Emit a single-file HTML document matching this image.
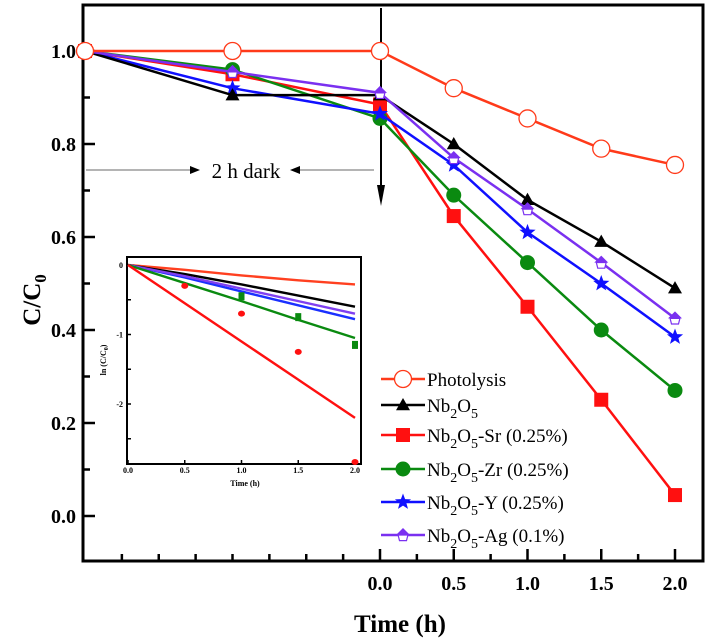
<!DOCTYPE html>
<html><head><meta charset="utf-8"><style>
body{margin:0;background:#fff}
svg{display:block;font-family:"Liberation Serif",serif}
</style></head><body>
<svg width="709" height="644" viewBox="0 0 709 644" id="c">
</svg>
<script>
const times=[-2,-1,0,0.5,1,1.5,2];
const seriesNames=["Photolysis","Nb2O5","Nb2O5-Sr (0.25%)","Nb2O5-Zr (0.25%)","Nb2O5-Y (0.25%)","Nb2O5-Ag (0.1%)"];
const photolysis=[1,1,1,0.92,0.855,0.79,0.755];
const nb2o5=[1,0.905,0.905,0.80,0.68,0.59,0.49];
const sr=[1,0.95,0.885,0.645,0.45,0.25,0.045];
const zr=[1,0.96,0.855,0.69,0.545,0.40,0.27];
const yy=[1,0.92,0.865,0.755,0.61,0.50,0.385];
const ag=[1,0.955,0.91,0.77,0.66,0.545,0.425];
const xTicks=[0,0.5,1,1.5,2];
const yTicks=[0,0.2,0.4,0.6,0.8,1.0];
const insetTimes=[0,0.5,1,1.5,2];
const inPhot=[0,-0.07,-0.15,-0.22,-0.28];
const inNb=[0,-0.13,-0.28,-0.44,-0.6];
const inAg=[0,-0.16,-0.34,-0.52,-0.7];
const inY=[0,-0.18,-0.38,-0.58,-0.78];
const inZr=[0,-0.26,-0.52,-0.79,-1.05];
const inSr=[0,-0.55,-1.1,-1.65,-2.2];
const inSrPts=[-0.3,-0.7,-1.25,-2.9];
const inZrPts=[-0.45,-0.75,-1.15];
const inPtTimes=[0.5,1,1.5,2];

const S=document.getElementById('c'),NS='http://www.w3.org/2000/svg';
function mk(t,a,p){const e=document.createElementNS(NS,t);for(const k in a)e.setAttribute(k,a[k]);(p||S).appendChild(e);return e;}
const X=t=>380+147.5*t, Y=v=>516-465*v;
const IX=t=>128+113.5*t, IY=v=>265-69.5*v;

let e;
e=mk('rect',{x:83,y:5,width:620,height:556,fill:'none',stroke:'#000','stroke-width':3});

for(let t=-1.75;t<=2.01;t+=0.25){const maj=Math.abs(t*2-Math.round(t*2))<1e-6&&t>=0;
 mk('line',{x1:X(t),x2:X(t),y1:561,y2:561-(maj?12:7),stroke:'#000','stroke-width':2.5});}
xTicks.forEach(t=>{e=mk('text',{x:X(t),y:590,'text-anchor':'middle','font-size':20,'font-weight':'bold'});e.textContent=t.toFixed(1);
});
for(let v=0;v<=1.05;v+=0.1){const maj=Math.round(v*10)%2==0;mk('line',{x1:83,x2:83+(maj?12:7),y1:Y(v),y2:Y(v),stroke:'#000','stroke-width':2.5});}
yTicks.forEach(v=>{e=mk('text',{x:76,y:Y(v)+7,'text-anchor':'end','font-size':20,'font-weight':'bold'});e.textContent=v.toFixed(1);
});
e=mk('text',{x:400,y:632,'text-anchor':'middle','font-size':25,'font-weight':'bold'});e.textContent='Time (h)';

e=mk('text',{transform:'translate(40,300) rotate(-90)','text-anchor':'middle','font-size':25,'font-weight':'bold'});
e.innerHTML='C/C<tspan font-size="17" dy="6">0</tspan>';


mk('line',{x1:86,x2:197,y1:170,y2:170,stroke:'#888','stroke-width':1.2});
mk('line',{x1:295,x2:374,y1:170,y2:170,stroke:'#888','stroke-width':1.2});
mk('path',{d:'M190,166L200,170L190,174z',fill:'#000'});
mk('path',{d:'M300,166L290,170L300,174z',fill:'#000'});
e=mk('text',{x:246,y:178,'text-anchor':'middle','font-size':21});e.textContent='2 h dark';

mk('line',{x1:381,x2:381,y1:8,y2:198,stroke:'#000','stroke-width':2});
mk('path',{d:'M377,185L381,206L385,185z',fill:'#000'});

function marker(kind,cx,cy,col,r,g,name){
 let m;
 if(kind=='circle')m=mk('circle',{cx,cy,r,fill:'#fff',stroke:col,'stroke-width':1.3},g);
 else if(kind=='tri')m=mk('path',{d:`M${cx},${cy-r}L${cx+r},${cy+r*0.75}L${cx-r},${cy+r*0.75}z`,fill:col},g);
 else if(kind=='square')m=mk('rect',{x:cx-r,y:cy-r,width:2*r,height:2*r,fill:col},g);
 else if(kind=='dot')m=mk('circle',{cx,cy,r,fill:col},g);
 else if(kind=='star'){let d='';for(let i=0;i<10;i++){const a=-Math.PI/2+i*Math.PI/5,rr=i%2?r*0.42:r;d+=(i?'L':'M')+(cx+rr*Math.cos(a))+','+(cy+rr*Math.sin(a));}m=mk('path',{d:d+'z',fill:col},g);}
 else if(kind=='pent'){mk('path',{d:`M${cx-r},${cy}L${cx},${cy-r}L${cx+r},${cy}z`,fill:col},g);
   m=mk('path',{d:`M${cx-r*0.7},${cy}L${cx+r*0.7},${cy}L${cx+r*0.5},${cy+r*0.8}L${cx-r*0.5},${cy+r*0.8}z`,fill:'#fff',stroke:col,'stroke-width':1.2},g);}
 
}
const series=[[photolysis,'#ff3a1a','circle',8.5],[nb2o5,'#000','tri',7],[sr,'#ff1010','square',7],[zr,'#0a8a10','dot',7.5],[yy,'#1010ff','star',8.5],[ag,'#7a30f0','pent',7]];
const order=[2,3,4,1,5,0];
order.forEach(i=>{const [d,col,k,r]=series[i];const g=mk('g',{});
 
 mk('polyline',{points:times.map((t,j)=>X(t)+','+Y(d[j])).join(' '),fill:'none',stroke:col,'stroke-width':2.5},g);
 times.forEach((t,j)=>marker(k,X(t),Y(d[j]),col,r,g,'point'));});

const ly=[379,405,435,469,502,535];
const lg=mk('g',{});
seriesNames.forEach((n,i)=>{const [d,col,k,r]=series[i];const y=ly[i];
 const g=mk('g',{},lg);
 mk('line',{x1:381,x2:425,y1:y,y2:y,stroke:col,'stroke-width':2.5},g);
 marker(k,403,y,col,r,g,'legend-marker');
 const t=mk('text',{x:427,y:y+7,'font-size':19},g);
 if(i==0)t.textContent=n;else{const rest=n.slice(5);t.innerHTML='Nb<tspan font-size="14" dy="6">2</tspan><tspan dy="-6">O</tspan><tspan font-size="14" dy="6">5</tspan><tspan dy="-6">'+rest+'</tspan>';}
});

const ig=mk('g',{});
mk('rect',{x:127,y:257,width:234,height:207,fill:'#fff',stroke:'#000','stroke-width':2},ig);
xTicks.forEach(t=>{mk('line',{x1:IX(t),x2:IX(t),y1:464,y2:460,stroke:'#000','stroke-width':1.5},ig);
 const tt=mk('text',{x:IX(t),y:473,'text-anchor':'middle','font-size':8,'font-weight':'bold'},ig);tt.textContent=t.toFixed(1);});
[0,-1,-2].forEach(v=>{const tt=mk('text',{x:123,y:IY(v)+3,'text-anchor':'end','font-size':8,'font-weight':'bold'},ig);tt.textContent=v;});
for(let v=0;v>=-2.51;v-=0.5)mk('line',{x1:127,x2:131,y1:IY(v),y2:IY(v),stroke:'#000','stroke-width':1.5},ig);
let tt=mk('text',{x:245,y:486,'text-anchor':'middle','font-size':8,'font-weight':'bold'},ig);tt.textContent='Time (h)';
tt=mk('text',{transform:'translate(106,360) rotate(-90)','text-anchor':'middle','font-size':8,'font-weight':'bold'},ig);tt.innerHTML='ln (C/C<tspan font-size="6" dy="2">0</tspan><tspan dy="-2">)</tspan>';
[[inPhot,'#ff4020'],[inNb,'#000'],[inY,'#1a30ff'],[inAg,'#8040f0'],[inZr,'#0a8a10'],[inSr,'#ff1010']].forEach(([d,col])=>{
 const p=mk('polyline',{points:insetTimes.map((t,j)=>IX(t)+','+IY(d[j])).join(' '),fill:'none',stroke:col,'stroke-width':2.4},ig);
 });
inSrPts.forEach((v,j)=>{const c=mk('ellipse',{cx:IX(inPtTimes[j]),cy:Math.min(IY(v),462),rx:3.5,ry:3,fill:'#ff1010'},ig);});
inZrPts.forEach((v,j)=>{const c=mk('rect',{x:IX(inPtTimes[j+1])-3,y:IY(v)-4,width:6,height:8,fill:'#0a8a10'},ig);});
</script>
</body></html>
